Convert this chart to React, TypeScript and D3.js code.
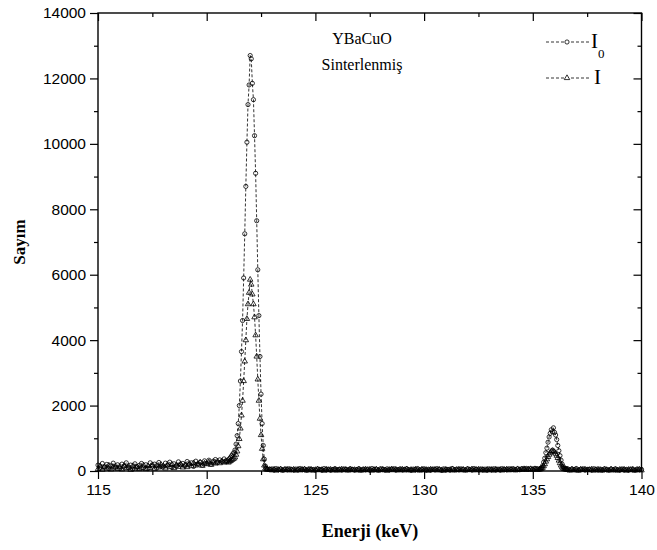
import React from "react";
import * as d3 from "d3";

// spectrum is stored in five energy windows (keV): start and channel step of each
const segStarts = [115, 121, 122.9, 135.3, 136.6];
const segSteps = [0.1, 0.05, 0.1, 0.05, 0.1];

// I0 counts
const i0Low = [
  180, 90, 230, 120, 200, 70, 160, 240, 110, 190,
  80, 210, 140, 250, 100, 180, 60, 220, 130, 170,
  230, 100, 190, 70, 250, 150, 210, 90, 260, 140,
  120, 240, 170, 270, 110, 220, 150, 280, 190, 230,
  160, 290, 200, 250, 140, 300, 220, 270, 180, 310,
  240, 330, 210, 300, 350, 260, 340, 290, 370, 320,
];
const i0Peak = [
  340, 380, 420, 470, 520, 560, 640, 820, 1080, 1450,
  2000, 2750, 3650, 4600, 5900, 7250, 8700, 10050, 11200, 11800,
  12700, 12600, 11850, 11350, 10250, 9100, 7650, 6150, 4750, 3500,
  2350, 1450, 780, 360, 150, 80, 55,
];
const i0Mid = [
  50, 65, 30, 75, 38, 58, 22, 62, 35, 70,
  44, 29, 60, 36, 77, 41, 53, 25, 65, 40,
  48, 25, 63, 51, 27, 75, 40, 59, 24, 46,
  72, 38, 50, 24, 66, 47, 31, 69, 52, 27,
  45, 70, 28, 55, 33, 60, 28, 76, 41, 54,
  27, 69, 42, 36, 67, 30, 55, 71, 28, 43,
  66, 29, 54, 70, 36, 22, 58, 40, 75, 37,
  43, 69, 28, 55, 31, 62, 37, 74, 47, 20,
  66, 38, 50, 22, 75, 39, 58, 33, 66, 47,
  31, 69, 44, 28, 76, 51, 30, 65, 43, 58,
  29, 67, 42, 70, 35, 58, 28, 74, 52, 36,
  69, 43, 71, 46, 65, 38, 73, 58, 80, 56,
  70, 55, 82, 68,
];
const i0Peak2 = [
  55, 70, 100, 160, 270, 390, 560, 700, 880, 1040,
  1150, 1260, 1200, 1320, 1180, 1100, 960, 780, 620, 470,
  330, 210, 140, 90, 65, 50,
];
const i0High = [
  68, 34, 60, 41, 76, 29, 53, 67, 28, 52,
  45, 27, 71, 44, 26, 60, 33, 68, 42, 25,
  59, 33, 66, 41, 28, 64, 35, 50, 27, 62,
  38, 24, 60, 36, 49,
];

// I counts
const iLow = [
  60, 150, 40, 120, 80, 170, 50, 110, 140, 70,
  130, 50, 160, 90, 140, 40, 150, 80, 120, 60,
  100, 170, 60, 150, 90, 180, 70, 160, 110, 190,
  150, 80, 190, 120, 200, 90, 170, 130, 210, 110,
  180, 120, 220, 150, 240, 170, 200, 260, 160, 230,
  210, 270, 190, 250, 230, 290, 240, 300, 260, 280,
];
const iPeak = [
  260, 290, 310, 340, 360, 380, 420, 500, 600, 760,
  980, 1300, 1700, 2150, 2750, 3350, 4000, 4650, 5100, 5450,
  5850, 5700, 5400, 5100, 4700, 4150, 3500, 2800, 2150, 1600,
  1100, 680, 360, 170, 80, 50, 40,
];
const iMid = [
  38, 22, 48, 15, 35, 53, 19, 36, 47, 21,
  30, 46, 14, 44, 22, 38, 55, 15, 31, 47,
  13, 34, 49, 25, 36, 11, 47, 24, 43, 20,
  38, 15, 33, 50, 24, 42, 17, 46, 25, 35,
  21, 47, 13, 34, 49, 26, 42, 12, 38, 50,
  15, 33, 48, 24, 12, 37, 51, 25, 46, 19,
  32, 46, 20, 54, 24, 38, 13, 47, 31, 15,
  49, 24, 36, 11, 48, 26, 45, 20, 42, 27,
  11, 45, 24, 38, 50, 16, 33, 49, 24, 42,
  17, 43, 30, 55, 21, 35, 47, 20, 39, 13,
  46, 22, 38, 14, 50, 25, 43, 19, 36, 51,
  23, 49, 35, 21, 58, 33, 46, 60, 34, 48,
  61, 37, 53, 40,
];
const iPeak2 = [
  45, 55, 70, 100, 150, 210, 290, 360, 430, 500,
  560, 600, 620, 610, 580, 530, 470, 400, 320, 240,
  170, 115, 80, 60, 50, 45,
];
const iHigh = [
  40, 16, 51, 23, 38, 11, 45, 29, 50, 24,
  37, 49, 13, 36, 48, 22, 15, 40, 34, 17,
  51, 25, 38, 13, 40, 26, 47, 12, 39, 24,
  50, 16, 32, 48, 21,
];

const xTicks = [115, 120, 125, 130, 135, 140];
const xMinor = [117.5, 122.5, 127.5, 132.5, 137.5];
const yTicks = [0, 2000, 4000, 6000, 8000, 10000, 12000, 14000];
const yMinor = [1000, 3000, 5000, 7000, 9000, 11000, 13000];

type Pt = { e: number; c: number };

function buildSeries(parts: number[][]): Pt[] {
  const pts: Pt[] = [];
  parts.forEach((vals, s) => {
    vals.forEach((c, i) => {
      pts.push({ e: Math.round((segStarts[s] + i * segSteps[s]) * 1000) / 1000, c });
    });
  });
  return pts;
}

const i0Series = buildSeries([i0Low, i0Peak, i0Mid, i0Peak2, i0High]);
const iSeries = buildSeries([iLow, iPeak, iMid, iPeak2, iHigh]);

function drawChart(svgRef: React.RefObject<SVGSVGElement | null>) {
  const w = 657;
  const h = 550;
  const left = 98, right = 641.5, top = 13, bottom = 471;
  const svg = d3.select(svgRef.current);
  svg.selectAll("*").remove();
  svg.attr("width", w).attr("height", h);

  const serif = "'Liberation Serif', 'Times New Roman', serif";
  const sans = "'Liberation Sans', Arial, sans-serif";

  const x = d3.scaleLinear().domain([115, 140]).range([left, right]);
  const y = d3.scaleLinear().domain([0, 14000]).range([bottom, top]);

  function styleAxis(g: d3.Selection<SVGGElement, unknown, null, undefined>) {
    g.select(".domain").remove();
    g.attr("font-family", sans).attr("font-size", 15.5);
    g.selectAll("line").attr("stroke", "#000").attr("stroke-width", 1.2);
    g.selectAll("text").attr("fill", "#000");
  }

  // bottom axis, ticks outside
  svg.append("g").attr("transform", `translate(0,${bottom})`)
    .call(d3.axisBottom(x).tickValues(xTicks).tickSize(8).tickPadding(5).tickFormat(d3.format("d")))
    .call(styleAxis);
  svg.append("g").attr("transform", `translate(0,${bottom})`)
    .call(d3.axisBottom(x).tickValues(xMinor).tickSize(4).tickFormat(() => ""))
    .call(styleAxis);
  // left axis
  svg.append("g").attr("transform", `translate(${left},0)`)
    .call(d3.axisLeft(y).tickValues(yTicks).tickSize(8).tickPadding(4).tickFormat(d3.format("d")))
    .call(styleAxis);
  svg.append("g").attr("transform", `translate(${left},0)`)
    .call(d3.axisLeft(y).tickValues(yMinor).tickSize(4).tickFormat(() => ""))
    .call(styleAxis);
  // top and right mirror ticks, pointing in
  svg.append("g").attr("transform", `translate(0,${top})`)
    .call(d3.axisTop(x).tickValues(xTicks).tickSize(-8).tickFormat(() => ""))
    .call(styleAxis);
  svg.append("g").attr("transform", `translate(0,${top})`)
    .call(d3.axisTop(x).tickValues(xMinor).tickSize(-4).tickFormat(() => ""))
    .call(styleAxis);
  svg.append("g").attr("transform", `translate(${right},0)`)
    .call(d3.axisRight(y).tickValues(yTicks).tickSize(-8).tickFormat(() => ""))
    .call(styleAxis);
  svg.append("g").attr("transform", `translate(${right},0)`)
    .call(d3.axisRight(y).tickValues(yMinor).tickSize(-4).tickFormat(() => ""))
    .call(styleAxis);

  // frame
  svg.append("rect")
    .attr("x", left).attr("y", top)
    .attr("width", right - left).attr("height", bottom - top)
    .attr("fill", "none").attr("stroke", "#000").attr("stroke-width", 1.4);

  const line = d3.line<Pt>().x(d => x(d.e)).y(d => y(d.c));

  const plot = svg.append("g");
  [i0Series, iSeries].forEach(series => {
    plot.append("path")
      .datum(series)
      .attr("fill", "none")
      .attr("stroke", "#000")
      .attr("stroke-width", 0.8)
      .attr("stroke-dasharray", "3,2")
      .attr("d", line);
  });

  const tri = d3.symbol().type(d3.symbolTriangle).size(13);

  plot.append("g").selectAll("path")
    .data(iSeries)
    .join("path")
    .attr("d", tri)
    .attr("transform", d => `translate(${x(d.e)},${y(d.c)})`)
    .attr("fill", "none").attr("stroke", "#000").attr("stroke-width", 0.8);

  plot.append("g").selectAll("circle")
    .data(i0Series)
    .join("circle")
    .attr("cx", d => x(d.e)).attr("cy", d => y(d.c)).attr("r", 2.1)
    .attr("fill", "none").attr("stroke", "#000").attr("stroke-width", 0.8);

  // legend
  const leg = svg.append("g");
  [42, 78].forEach((ly, k) => {
    leg.append("line")
      .attr("x1", 546).attr("x2", 590).attr("y1", ly).attr("y2", ly)
      .attr("stroke", "#000").attr("stroke-width", 0.8).attr("stroke-dasharray", "3,2");
    if (k === 0) {
      leg.append("circle").attr("cx", 567).attr("cy", ly).attr("r", 2.1)
        .attr("fill", "#fff").attr("stroke", "#000").attr("stroke-width", 0.8);
    } else {
      leg.append("path").attr("d", tri).attr("transform", `translate(567,${ly})`)
        .attr("fill", "#fff").attr("stroke", "#000").attr("stroke-width", 0.8);
    }
  });
  leg.append("text").attr("x", 591).attr("y", 48)
    .attr("font-family", serif).attr("font-size", 21).text("I");
  leg.append("text").attr("x", 598).attr("y", 58)
    .attr("font-family", serif).attr("font-size", 13).text("0");
  leg.append("text").attr("x", 594).attr("y", 84)
    .attr("font-family", serif).attr("font-size", 21).text("I");

  // sample note
  svg.append("text").attr("x", 362).attr("y", 44).attr("text-anchor", "middle")
    .attr("font-family", serif).attr("font-size", 16).text("YBaCuO");
  svg.append("text").attr("x", 362).attr("y", 70).attr("text-anchor", "middle")
    .attr("font-family", serif).attr("font-size", 16).text("Sinterlenmiş");

  // axis titles
  svg.append("text").attr("x", 370).attr("y", 537).attr("text-anchor", "middle")
    .attr("font-family", serif).attr("font-weight", "bold").attr("font-size", 18)
    .text("Enerji (keV)");
  svg.append("text")
    .attr("transform", `translate(25,${(top + bottom) / 2}) rotate(-90)`)
    .attr("text-anchor", "middle")
    .attr("font-family", serif).attr("font-weight", "bold").attr("font-size", 17)
    .text("Sayım");
}

const App = () => {
  const svg = React.useRef<SVGSVGElement>(null);

  React.useEffect(() => {
    document.body.style.margin = "0";
    drawChart(svg);
  }, []);

  return (
    <div style={{ width: 657, height: 550, background: "#fff" }}>
      <svg ref={svg} style={{ display: "block" }} />
    </div>
  );
};

export default App;
